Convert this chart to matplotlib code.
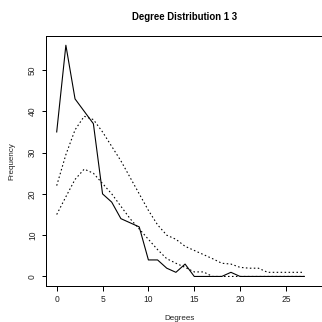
import matplotlib
matplotlib.use("Agg")
import matplotlib.pyplot as plt

plt.rcParams['font.family'] = ['Liberation Sans', 'DejaVu Sans']

degrees = list(range(28))
observed = [35, 56, 43, 40, 37, 20, 18, 14, 13, 12, 4, 4, 2, 1, 3, 0,
            0, 0, 0, 1, 0, 0, 0, 0, 0, 0, 0, 0]
upper = [22, 29.5, 35.5, 38.8, 38, 35, 31.5, 28, 24, 20, 16, 12.5, 10, 9,
         7.3, 6.3, 5.3, 4.3, 3.2, 3, 2.2, 2, 2, 1, 1, 1, 1, 1]
lower = [15, 19.3, 23.5, 26, 25, 22.5, 20, 17, 14, 11.5, 9, 6.5, 4.3, 3.2,
         2.2, 1.1, 1.1, 0, 0, 0, 0, 0, 0, 0, 0, 0, 0, 0]
xticks = [0, 5, 10, 15, 20, 25]
yticks = [0, 10, 20, 30, 40, 50]

W = H = 322
fig = plt.figure(figsize=(W / 72, H / 72), dpi=72)
ax = fig.add_axes([46 / W, (H - 285.7) / H, 294 / W, 249.7 / H])

ax.plot(degrees, observed, color='black', lw=1.1)
ax.plot(degrees, upper, color='black', lw=1.1, linestyle=(0, (1.4, 2.2)))
ax.plot(degrees, lower, color='black', lw=1.1, linestyle=(0, (1.4, 2.2)))

ax.set_xlim(-1.167, -1.167 + 294 / 9.17)
ax.set_ylim(-2.24, 58.24)
ax.set_xticks(xticks)
ax.set_yticks(yticks)
ax.set_xticklabels([str(t) for t in xticks])
ax.set_yticklabels([str(t) for t in yticks], rotation=90, va='center')
ax.tick_params(axis='both', direction='out', length=4.5, width=1,
               labelsize=8.5, color='black', labelcolor='#222222')
ax.tick_params(axis='x', pad=4.5)
ax.tick_params(axis='y', pad=4.5)
for s in ax.spines.values():
    s.set_linewidth(1)
    s.set_color('black')
ax.spines['right'].set_visible(False)

fig.text(185 / W, 1 - 17 / H, 'Degree Distribution 1 3', ha='center',
         va='center', fontsize=9.6, fontweight='bold')
fig.text(180 / W, 1 - 319 / H, 'Degrees', ha='center', va='center',
         fontsize=8, color='#222222')
fig.text(12 / W, 1 - 160.8 / H, 'Frequency', ha='center', va='center',
         rotation=90, fontsize=8, color='#222222')

fig.savefig('out.png', dpi=72)
